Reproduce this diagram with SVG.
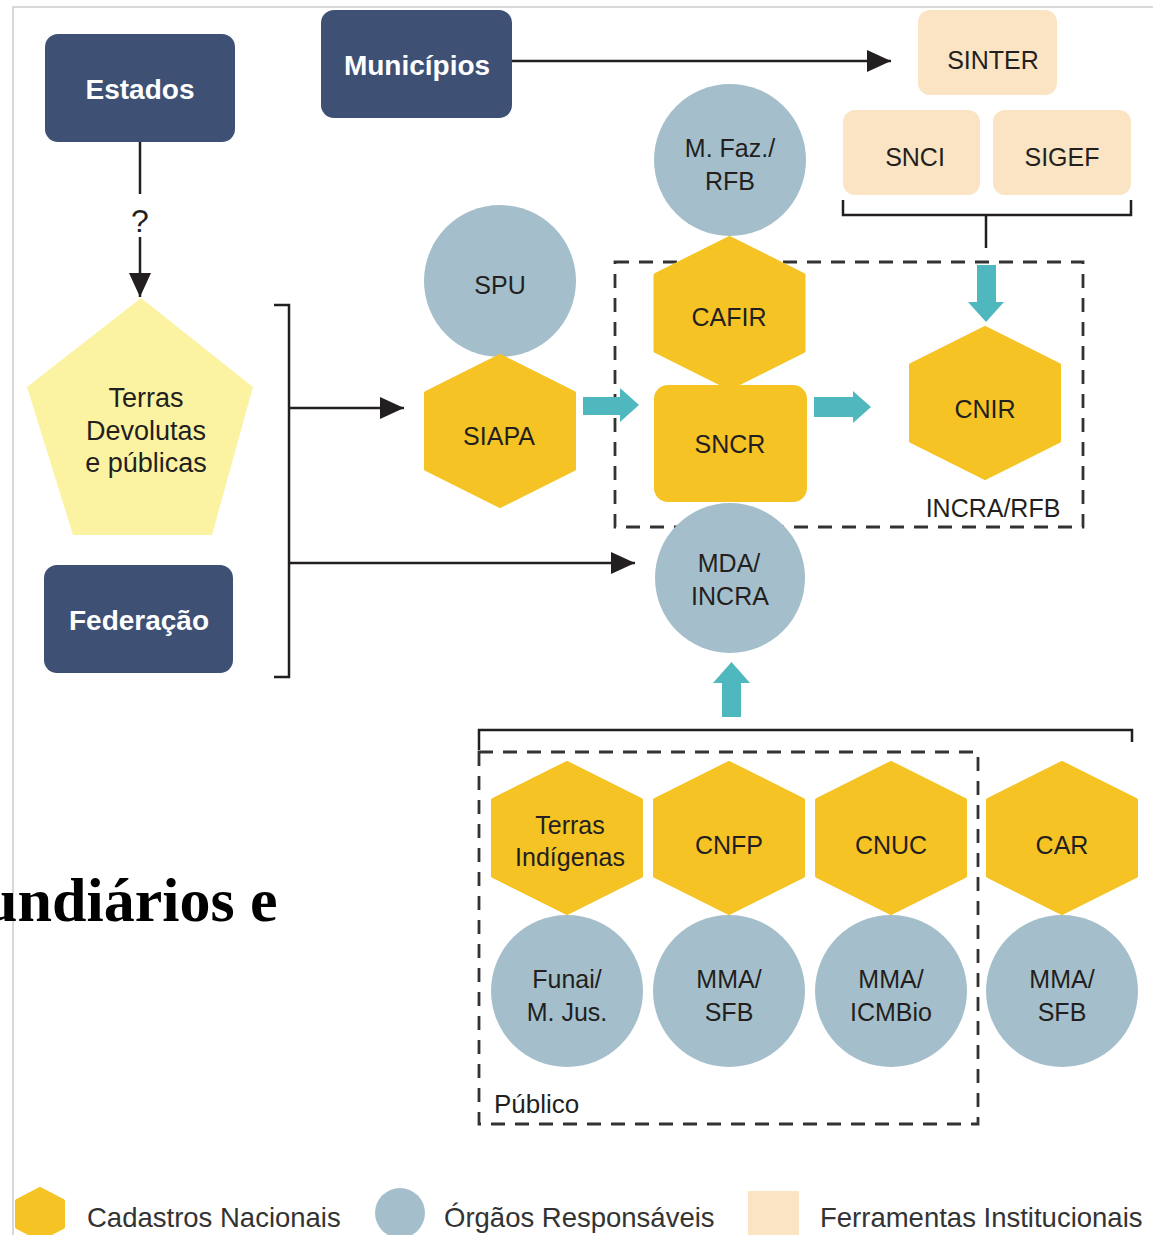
<svg xmlns="http://www.w3.org/2000/svg" xmlns:xlink="http://www.w3.org/1999/xlink" width="1153" height="1235" viewBox="0 0 1153 1235">
<style>
.nav{fill:#3e5174}
.hex{fill:#f6c325;stroke:#f6c325;stroke-width:4;stroke-linejoin:round}
.org{fill:#a4bfcb}
.tool{fill:#fbe4c3}
.pent{fill:#fcf3a2}
.lbl{font-family:"Liberation Sans",Arial,sans-serif;font-size:25px;fill:#231f20;text-anchor:middle}
.blbl{font-family:"Liberation Sans",Arial,sans-serif;font-weight:bold;font-size:28px;fill:#ffffff;text-anchor:middle}
.leg{font-family:"Liberation Sans",Arial,sans-serif;font-size:27.5px;fill:#333333}
.conn{stroke:#231f20;stroke-width:2.5;fill:none}
.dash{stroke:#333333;stroke-width:2.8;fill:none;stroke-dasharray:14 10}
.teal{fill:#4fb8be}
</style>
<defs>
<polygon id="hexshape" points="0,-75 74,-38 74,38 0,75 -74,38 -74,-38"/>
<marker id="arr" markerUnits="userSpaceOnUse" markerWidth="24" markerHeight="22" viewBox="0 0 24 22" refX="24" refY="11" orient="auto">
<path d="M0,0 L24,11 L0,22 z" fill="#231f20"/>
</marker>
</defs>
<rect width="1153" height="1235" fill="#ffffff"/>
<path d="M13,1235 V7 H1153" stroke="#cccccc" stroke-width="1.5" fill="none"/>

<g id="containers">
<rect class="dash" x="615" y="262" width="468" height="265"/>
<text class="lbl" x="993" y="517">INCRA/RFB</text>
<rect class="dash" x="479" y="752" width="499" height="372"/>
<text class="lbl" x="494" y="1113" style="text-anchor:start;font-size:26px">Público</text>
</g>

<g id="connectors">
<line class="conn" x1="512" y1="61" x2="891" y2="61" marker-end="url(#arr)"/>
<line class="conn" x1="140" y1="142" x2="140" y2="194"/>
<text class="lbl" x="140" y="232" style="font-size:32px">?</text>
<line class="conn" x1="140" y1="237" x2="140" y2="297" marker-end="url(#arr)"/>
<path class="conn" d="M274,305 H289 V677 H274"/>
<line class="conn" x1="289" y1="408" x2="404" y2="408" marker-end="url(#arr)"/>
<line class="conn" x1="289" y1="563" x2="635" y2="563" marker-end="url(#arr)"/>
<path class="conn" d="M843,200 V215 H1131 V200 M986,215 V248"/>
<path class="conn" d="M479,750 V730 H1132 V742"/>
<polygon class="teal" points="977,265 996,265 996,302 1004,302 986,322 968,302 977,302"/>
<polygon class="teal" points="583,397 620,397 620,388 639,405 620,422 620,415 583,415"/>
<polygon class="teal" points="814,397 853,397 853,391 871,407 853,423 853,417 814,417"/>
<polygon class="teal" points="722,717 741,717 741,683 750,683 731.5,662 713,683 722,683"/>
</g>

<g id="estados">
<rect class="nav" x="45" y="34" width="190" height="108" rx="13"/>
<text class="blbl" x="140" y="99">Estados</text>
</g>
<g id="municipios">
<rect class="nav" x="321" y="10" width="191" height="108" rx="13"/>
<text class="blbl" x="417" y="75">Municípios</text>
</g>
<g id="federacao">
<rect class="nav" x="44" y="565" width="189" height="108" rx="13"/>
<text class="blbl" x="139" y="630">Federação</text>
</g>
<g id="terras-devolutas">
<polygon class="pent" points="141,298 253,387 212,535 73,535 27,387"/>
<text class="lbl" x="146" y="407" style="font-size:27px">Terras</text>
<text class="lbl" x="146" y="440" style="font-size:27px">Devolutas</text>
<text class="lbl" x="146" y="472" style="font-size:27px">e públicas</text>
</g>

<g id="sinter">
<rect class="tool" x="918" y="10" width="139" height="85" rx="12"/>
<text class="lbl" x="993" y="69">SINTER</text>
</g>
<g id="snci">
<rect class="tool" x="843" y="110" width="137" height="85" rx="12"/>
<text class="lbl" x="915" y="166">SNCI</text>
</g>
<g id="sigef">
<rect class="tool" x="993" y="110" width="138" height="85" rx="12"/>
<text class="lbl" x="1062" y="166">SIGEF</text>
</g>

<g id="mfaz-rfb">
<circle class="org" cx="730" cy="160" r="76"/>
<text class="lbl" x="730" y="157">M. Faz./</text>
<text class="lbl" x="730" y="190">RFB</text>
</g>
<g id="spu">
<circle class="org" cx="500" cy="281" r="76"/>
<text class="lbl" x="500" y="294">SPU</text>
</g>
<g id="siapa">
<use href="#hexshape" xlink:href="#hexshape" class="hex" transform="translate(500,431)"/>
<text class="lbl" x="499" y="445">SIAPA</text>
</g>
<g id="sncr">
<rect x="654" y="385" width="153" height="117" rx="14" fill="#f6c325"/>
<text class="lbl" x="730" y="453">SNCR</text>
</g>
<g id="cafir">
<use href="#hexshape" xlink:href="#hexshape" class="hex" transform="translate(729.5,313)"/>
<text class="lbl" x="729" y="326">CAFIR</text>
</g>
<g id="cnir">
<use href="#hexshape" xlink:href="#hexshape" class="hex" transform="translate(985,403)"/>
<text class="lbl" x="985" y="418">CNIR</text>
</g>
<g id="mda-incra">
<circle class="org" cx="730" cy="578" r="75"/>
<text class="lbl" x="729" y="572">MDA/</text>
<text class="lbl" x="730" y="605">INCRA</text>
</g>

<g id="terras-indigenas">
<use href="#hexshape" xlink:href="#hexshape" class="hex" transform="translate(567,838)"/>
<text class="lbl" x="570" y="834">Terras</text>
<text class="lbl" x="570" y="866">Indígenas</text>
</g>
<g id="funai">
<circle class="org" cx="567" cy="991" r="76"/>
<text class="lbl" x="567" y="988">Funai/</text>
<text class="lbl" x="567" y="1021">M. Jus.</text>
</g>
<g id="cnfp">
<use href="#hexshape" xlink:href="#hexshape" class="hex" transform="translate(729,838)"/>
<text class="lbl" x="729" y="854">CNFP</text>
</g>
<g id="mma-sfb-1">
<circle class="org" cx="729" cy="991" r="76"/>
<text class="lbl" x="729" y="988">MMA/</text>
<text class="lbl" x="729" y="1021">SFB</text>
</g>
<g id="cnuc">
<use href="#hexshape" xlink:href="#hexshape" class="hex" transform="translate(891,838)"/>
<text class="lbl" x="891" y="854">CNUC</text>
</g>
<g id="mma-icmbio">
<circle class="org" cx="891" cy="991" r="76"/>
<text class="lbl" x="891" y="988">MMA/</text>
<text class="lbl" x="891" y="1021">ICMBio</text>
</g>
<g id="car">
<use href="#hexshape" xlink:href="#hexshape" class="hex" transform="translate(1062,838)"/>
<text class="lbl" x="1062" y="854">CAR</text>
</g>
<g id="mma-sfb-2">
<circle class="org" cx="1062" cy="991" r="76"/>
<text class="lbl" x="1062" y="988">MMA/</text>
<text class="lbl" x="1062" y="1021">SFB</text>
</g>

<text x="-17" y="921" style="font-family:'Liberation Serif','Times New Roman',serif;font-weight:bold;font-size:62px;fill:#000000">undiários e</text>

<g id="legend">
<polygon class="hex" points="40,1189 63,1201 63,1227 40,1239 17,1227 17,1201"/>
<text class="leg" x="87" y="1227">Cadastros Nacionais</text>
<circle class="org" cx="400" cy="1213" r="25"/>
<text class="leg" x="444" y="1227">Órgãos Responsáveis</text>
<rect class="tool" x="748" y="1191" width="51" height="50"/>
<text class="leg" x="820" y="1227">Ferramentas Institucionais</text>
</g>
</svg>
